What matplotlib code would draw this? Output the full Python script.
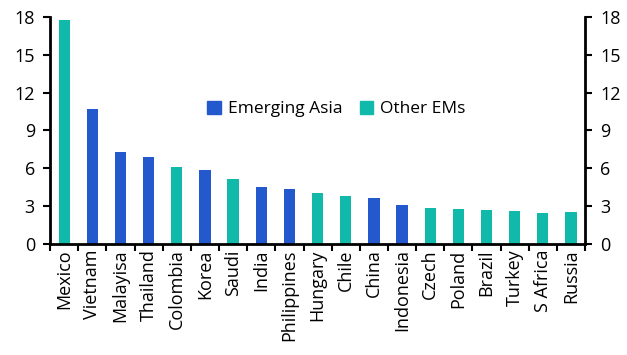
import matplotlib

matplotlib.use("Agg")
import matplotlib.pyplot as plt
from matplotlib.patches import Patch

countries = ["Mexico", "Vietnam", "Malayisa", "Thailand", "Colombia", "Korea",
             "Saudi", "India", "Philippines", "Hungary", "Chile", "China",
             "Indonesia", "Czech", "Poland", "Brazil", "Turkey", "S Africa", "Russia"]
values = [17.8, 10.7, 7.3, 6.9, 6.1, 5.9, 5.15, 4.5, 4.35, 4.05, 3.8, 3.65,
          3.1, 2.85, 2.8, 2.7, 2.6, 2.45, 2.55]
groups = ["Other EMs", "Emerging Asia", "Emerging Asia", "Emerging Asia", "Other EMs",
          "Emerging Asia", "Other EMs", "Emerging Asia", "Emerging Asia", "Other EMs",
          "Other EMs", "Emerging Asia", "Emerging Asia", "Other EMs", "Other EMs",
          "Other EMs", "Other EMs", "Other EMs", "Other EMs"]
y_ticks = [0, 3, 6, 9, 12, 15, 18]

colors = {"Emerging Asia": "#2359CC", "Other EMs": "#10B9A9"}

plt.rcParams.update({"font.family": ["Open Sans", "DejaVu Sans"], "font.size": 13})

fig = plt.figure(figsize=(6.27, 3.55), dpi=100)
ax = fig.add_axes([0.08, 0.313, 0.853, 0.639])

positions = list(range(len(countries)))
ax.bar(positions, values, width=0.4, color=[colors[g] for g in groups])

ax.set_xlim(-0.5, len(countries) - 0.5)
ax.set_ylim(0, 18)
ax.set_yticks(y_ticks)
ax.tick_params(axis="y", which="both", left=True, right=True, labelleft=True,
               labelright=True, direction="out", length=5, width=1.5, pad=6)

ax.set_xticks([p - 0.5 for p in positions] + [len(countries) - 0.5])
ax.set_xticklabels([])
ax.set_xticks(positions, minor=True)
ax.set_xticklabels(countries, minor=True, rotation=90)
ax.tick_params(axis="x", which="major", direction="out", length=5, width=1.5)
ax.tick_params(axis="x", which="minor", length=0, pad=4)

for side in ("left", "right", "bottom"):
    ax.spines[side].set_linewidth(2)
ax.spines["top"].set_visible(False)

handles = [Patch(color=colors[k], label=k) for k in ("Emerging Asia", "Other EMs")]
ax.legend(handles=handles, loc="center", bbox_to_anchor=(0.535, 0.595), ncol=2,
          frameon=False, handlelength=0.8, handleheight=0.8, handletextpad=0.4,
          columnspacing=1.0, fontsize=12.5)

fig.savefig("out.png", dpi=100)
